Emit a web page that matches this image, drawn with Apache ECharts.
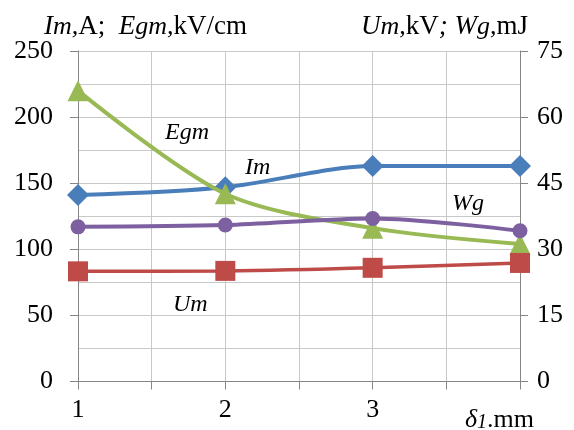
<!DOCTYPE html>
<html>
<head>
<meta charset="utf-8">
<script src="https://cdn.jsdelivr.net/npm/echarts@6/dist/echarts.min.js"></script>
<style>
  html, body { margin: 0; padding: 0; background: #fff; }
  #chart { width: 574px; height: 430px; }
</style>
</head>
<body>
<div id="chart"></div>
<script>
// Gap width δ1 (mm) on the horizontal axis
const xValues = [1, 2, 3, 4];
const xTickLabels = [1, 2, 3];

// Left axis: current Im (A) and field strength Egm (kV/cm)
const imValues = [141, 147, 163, 163];
const egmValues = [220, 142, 116, 104];

// Right axis: voltage Um (kV) and energy Wg (mJ)
const umValues = [25.0, 25.1, 25.8, 26.9];
const wgValues = [35.1, 35.5, 37.0, 34.2];

// Axis ranges and tick steps
const leftAxis = { min: 0, max: 250, step: 50 };
const rightAxis = { min: 0, max: 75, step: 15 };

const FONT = '"Liberation Serif", "Times New Roman", serif';
const AXIS_GRAY = '#868686';
const GRID_GRAY = '#C8C8C8';

function pairs(ys) {
  return xValues.map((x, i) => [x, ys[i]]);
}

// i: italic symbol, s: italic index, n: upright text
function richStyles(size, subSize) {
  return {
    i: { fontFamily: FONT, fontStyle: 'italic', fontSize: size, color: '#000', verticalAlign: 'bottom', lineHeight: size + 4 },
    s: { fontFamily: FONT, fontStyle: 'italic', fontSize: subSize, color: '#000', verticalAlign: 'bottom', lineHeight: size + 2 },
    n: { fontFamily: FONT, fontSize: size, color: '#000', verticalAlign: 'bottom', lineHeight: size + 4 }
  };
}

function label(x, y, text, size, subSize, align) {
  return {
    type: 'text',
    x: x,
    y: y,
    style: {
      text: text,
      rich: richStyles(size, subSize),
      align: align || 'left',
      verticalAlign: 'middle'
    },
    z: 10
  };
}

const chart = echarts.init(document.getElementById('chart'), null, { renderer: 'canvas' });

const axisLabelStyle = { fontFamily: FONT, fontSize: 26, color: '#000' };

chart.setOption({
  animation: false,
  backgroundColor: '#fff',
  grid: { left: 78, right: 54, top: 51, bottom: 48.5, containLabel: false, outerBoundsMode: 'none' },
  xAxis: {
    type: 'value',
    min: 1,
    max: 4,
    interval: 0.5,
    axisLine: { show: true, lineStyle: { color: AXIS_GRAY, width: 1 } },
    axisTick: { show: true, length: 8, lineStyle: { color: AXIS_GRAY } },
    axisLabel: Object.assign({
      margin: 16,
      formatter: v => (xTickLabels.includes(v) ? String(v) : '')
    }, axisLabelStyle),
    splitLine: { show: true, lineStyle: { color: GRID_GRAY, width: 1 } }
  },
  yAxis: [
    {
      type: 'value',
      position: 'left',
      min: leftAxis.min,
      max: leftAxis.max,
      interval: leftAxis.step,
      axisLine: { show: true, lineStyle: { color: AXIS_GRAY, width: 1 } },
      axisTick: { show: true, length: 8, lineStyle: { color: AXIS_GRAY } },
      axisLabel: Object.assign({ margin: 25 }, axisLabelStyle),
      splitLine: { show: true, lineStyle: { color: GRID_GRAY, width: 1 } },
      minorTick: { show: false, splitNumber: 2 },
      minorSplitLine: { show: true, lineStyle: { color: GRID_GRAY, width: 1 } }
    },
    {
      type: 'value',
      position: 'right',
      min: rightAxis.min,
      max: rightAxis.max,
      interval: rightAxis.step,
      axisLine: { show: true, lineStyle: { color: AXIS_GRAY, width: 1 } },
      axisTick: { show: true, length: 8, lineStyle: { color: AXIS_GRAY } },
      axisLabel: Object.assign({ margin: 17 }, axisLabelStyle),
      splitLine: { show: false }
    }
  ],
  series: [
    {
      name: 'Im',
      type: 'line',
      yAxisIndex: 0,
      data: pairs(imValues),
      smooth: 0.3,
      symbol: 'diamond',
      symbolSize: 22,
      lineStyle: { color: '#4A7EBB', width: 4 },
      itemStyle: { color: '#4A7EBB' },
      z: 2
    },
    {
      name: 'Egm',
      type: 'line',
      yAxisIndex: 0,
      data: pairs(egmValues),
      smooth: 0.3,
      symbol: 'triangle',
      symbolSize: 21,
      lineStyle: { color: '#98B954', width: 4 },
      itemStyle: { color: '#98B954' },
      z: 3
    },
    {
      name: 'Um',
      type: 'line',
      yAxisIndex: 1,
      data: pairs(umValues),
      smooth: 0.3,
      symbol: 'rect',
      symbolSize: 20,
      lineStyle: { color: '#BE4B48', width: 3.5 },
      itemStyle: { color: '#BE4B48' },
      z: 4
    },
    {
      name: 'Wg',
      type: 'line',
      yAxisIndex: 1,
      data: pairs(wgValues),
      smooth: 0.3,
      symbol: 'circle',
      symbolSize: 15,
      lineStyle: { color: '#7D60A0', width: 4 },
      itemStyle: { color: '#7D60A0' },
      z: 5
    }
  ],
  graphic: [
    // axis titles
    label(44, 25, '{i|I}{s|m,}{n|A;  }{i|E}{s|gm,}{n|kV/cm}', 27, 26),
    label(528, 25, '{i|U}{s|m,}{n|kV}{i|; W}{s|g,}{n|mJ}', 27, 26, 'right'),
    label(534, 418, '{i|δ}{s|1}{n|.mm}', 26, 20, 'right'),
    // series names
    label(165, 131, '{i|E}{s|gm}', 24, 24),
    label(245, 166, '{i|I}{s|m}', 24, 24),
    label(452, 202, '{i|W}{s|g}', 24, 24),
    label(173, 303, '{i|U}{s|m}', 24, 24)
  ]
});
</script>
</body>
</html>
